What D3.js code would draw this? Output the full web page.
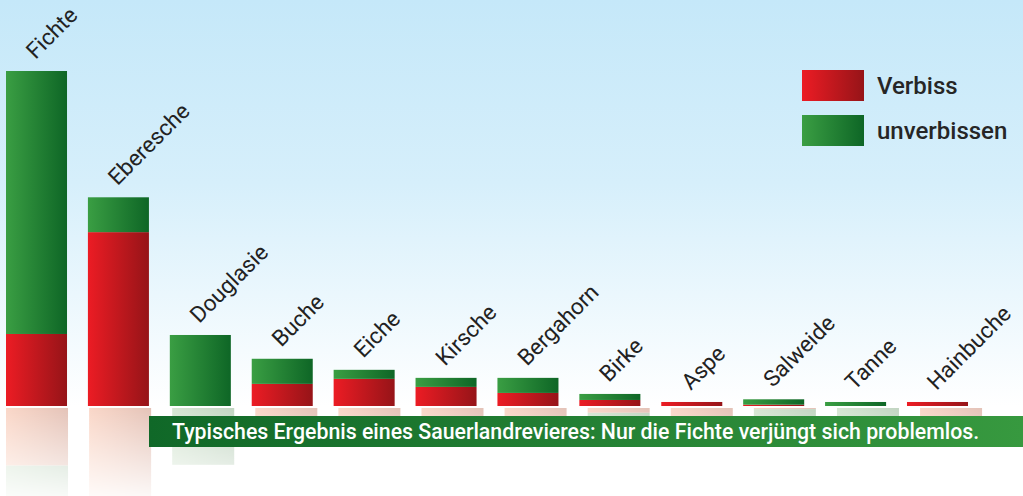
<!DOCTYPE html>
<html><head><meta charset="utf-8">
<script src="https://cdn.jsdelivr.net/npm/d3@7"></script>
<style>html,body{margin:0;padding:0;background:#fff;overflow:hidden}svg{display:block}</style>
</head><body>
<script>
const categories = ["Fichte","Eberesche","Douglasie","Buche","Eiche","Kirsche","Bergahorn","Birke","Aspe","Salweide","Tanne","Hainbuche"];
const verbiss     = [21.5, 51.9, 0,   6.6, 8.1, 5.7, 3.9, 1.8, 1.2, 0.4, 0,   1.2];
const unverbissen = [78.5, 10.4, 21.2, 7.5, 2.7, 2.7, 4.5, 1.8, 0,   1.6, 1.2, 0];
const legendLabels = ["Verbiss","unverbissen"];
const caption = "Typisches Ergebnis eines Sauerlandrevieres: Nur die Fichte verjüngt sich problemlos.";

const W = 1023, H = 496;
const svg = d3.select("body").append("svg").attr("width", W).attr("height", H);
const defs = svg.append("defs");

function hgrad(id, c0, c1) {
  const g = defs.append("linearGradient").attr("id", id).attr("x1", 0).attr("x2", 1).attr("y1", 0).attr("y2", 0);
  g.append("stop").attr("offset", 0).attr("stop-color", c0);
  g.append("stop").attr("offset", 1).attr("stop-color", c1);
}
hgrad("gRed", "#ec1c24", "#961418");
hgrad("gGreen", "#3a9e43", "#0e6626");
hgrad("gRedR", "#fad7c8", "#e4c3b8");
hgrad("gGreenR", "#d6e6d3", "#c2d5c2");
hgrad("gBanner", "#106828", "#37993f");

const bg = defs.append("linearGradient").attr("id", "gBg")
  .attr("gradientUnits", "userSpaceOnUse").attr("x1", 0).attr("y1", 0).attr("x2", 0).attr("y2", 406);
bg.append("stop").attr("offset", 0).attr("stop-color", "#c5e8f9");
bg.append("stop").attr("offset", 0.45).attr("stop-color", "#d6effb");
bg.append("stop").attr("offset", 1).attr("stop-color", "#ffffff");

const fade = defs.append("linearGradient").attr("id", "gFade").attr("gradientUnits", "userSpaceOnUse")
  .attr("x1", 0).attr("y1", 408).attr("x2", 0).attr("y2", 496);
fade.append("stop").attr("offset", 0).attr("stop-color", "#fff").attr("stop-opacity", 1);
fade.append("stop").attr("offset", 1).attr("stop-color", "#fff").attr("stop-opacity", 0.12);
defs.append("mask").attr("id", "mFade").attr("maskUnits", "userSpaceOnUse")
  .attr("x", 0).attr("y", 0).attr("width", W).attr("height", H)
  .append("rect").attr("x", 0).attr("y", 406).attr("width", W).attr("height", 90).attr("fill", "url(#gFade)");

svg.append("rect").attr("width", W).attr("height", 406).attr("fill", "url(#gBg)");

const x = d3.scaleBand().domain(categories).range([6, 968]).paddingInner(0.255).paddingOuter(0);
const y = d3.scaleLinear().domain([0, 100]).range([406, 71]);
const yR = d3.scaleLinear().domain([0, 100]).range([408, 408 + 335 * 0.8]);
const bannerTop = 416;

const data = categories.map((c, i) => ({c, r: verbiss[i], g: unverbissen[i]}));

// reflections
const refl = svg.append("g").attr("mask", "url(#mFade)");
data.forEach(d => {
  const x0 = x(d.c);
  const xr = x0 + 0.0145 * (x0 - 6);
  const w = x.bandwidth() + 1;
  const redEnd = d.g > 0 ? yR(d.r) : Math.max(yR(d.r), bannerTop + 2);
  if (d.r > 0) refl.append("rect").attr("x", xr).attr("y", yR(0)).attr("width", w)
    .attr("height", redEnd - yR(0)).attr("fill", "url(#gRedR)");
  if (d.g > 0) {
    const gEnd = Math.max(yR(d.r + d.g), bannerTop + 2);
    refl.append("rect").attr("x", xr).attr("y", yR(d.r)).attr("width", w)
      .attr("height", gEnd - yR(d.r)).attr("fill", "url(#gGreenR)");
  }
});

// bars
const bars = svg.append("g");
data.forEach(d => {
  const x0 = x(d.c), w = x.bandwidth();
  if (d.r > 0) bars.append("rect").attr("x", x0).attr("y", y(d.r)).attr("width", w)
    .attr("height", y(0) - y(d.r)).attr("fill", "url(#gRed)");
  if (d.g > 0) bars.append("rect").attr("x", x0).attr("y", y(d.r + d.g)).attr("width", w)
    .attr("height", y(d.r) - y(d.r + d.g)).attr("fill", "url(#gGreen)");
});

// labels
svg.append("g").selectAll("text").data(data).join("text")
  .attr("transform", d => `translate(${x(d.c) + x.bandwidth() / 2 - 1},${y(d.r + d.g) - 11}) rotate(-45)`)
  .attr("font-family", "Roboto, sans-serif").attr("font-size", 22.5).attr("fill", "#222")
  .text(d => d.c);

// banner
svg.append("rect").attr("x", 149).attr("y", bannerTop).attr("width", W - 149).attr("height", 31).attr("fill", "url(#gBanner)");
svg.append("text").attr("x", 172).attr("y", 439).attr("font-family", "Roboto, sans-serif")
  .attr("font-size", 21.3).attr("font-weight", 500).attr("fill", "#fff").text(caption);

// legend
const leg = svg.append("g");
const legFills = ["url(#gRed)", "url(#gGreen)"];
legendLabels.forEach((t, i) => {
  leg.append("rect").attr("x", 802).attr("y", 70 + i * 45).attr("width", 62).attr("height", 31).attr("fill", legFills[i]);
  leg.append("text").attr("x", 877).attr("y", 94 + i * 45).attr("font-family", "Roboto, sans-serif")
    .attr("font-size", 24).attr("font-weight", 500).attr("fill", "#262626").text(t);
});
</script>
</body></html>
